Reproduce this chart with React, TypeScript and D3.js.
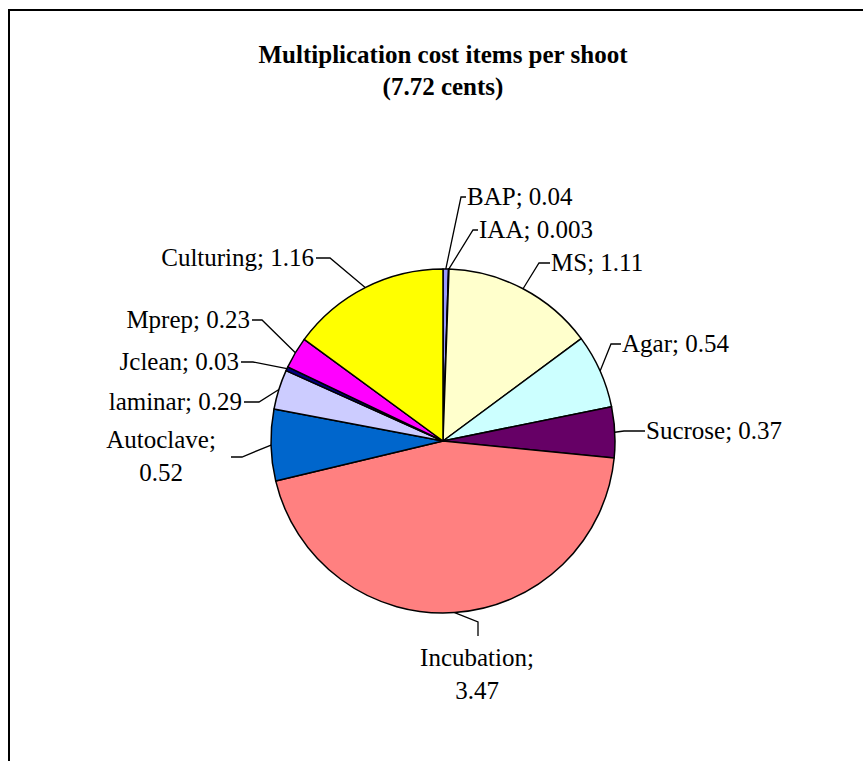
import React from "react";
import * as d3 from "d3";

// Cost items (cents per shoot), clockwise from 12 o'clock
const items = ["BAP", "IAA", "MS", "Agar", "Sucrose", "Incubation", "Autoclave", "laminar", "Jclean", "Mprep", "Culturing"];
const costs = [0.04, 0.003, 1.11, 0.54, 0.37, 3.47, 0.52, 0.29, 0.03, 0.23, 1.16];
const colors = ["#9999FF", "#993366", "#FFFFCC", "#CCFFFF", "#660066", "#FF8080", "#0066CC", "#CCCCFF", "#000080", "#FF00FF", "#FFFF00"];
const titleLines = ["Multiplication cost items per shoot", "(7.72 cents)"];

// Label placement: text anchor point, leader elbow and end, text lines
type LabelLayout = { tx: number; ty: number; anchor: "start" | "end" | "middle"; elbow: [number, number]; end: [number, number]; split?: boolean };
const labelLayout: LabelLayout[] = [
  { tx: 467, ty: 197, anchor: "start", elbow: [461, 197], end: [466, 197] },
  { tx: 479, ty: 230, anchor: "start", elbow: [473, 230], end: [478, 230] },
  { tx: 551, ty: 263, anchor: "start", elbow: [539, 263], end: [550, 263] },
  { tx: 622, ty: 344, anchor: "start", elbow: [611, 344], end: [621, 344] },
  { tx: 646, ty: 431, anchor: "start", elbow: [624, 431], end: [645, 431] },
  { tx: 477, ty: 658, anchor: "middle", elbow: [478, 622], end: [478, 636], split: true },
  { tx: 161, ty: 440, anchor: "middle", elbow: [242, 457], end: [231, 457], split: true },
  { tx: 242, ty: 402, anchor: "end", elbow: [259, 402], end: [244, 402] },
  { tx: 239, ty: 362, anchor: "end", elbow: [253, 362], end: [241, 362] },
  { tx: 250, ty: 320, anchor: "end", elbow: [262, 320], end: [252, 320] },
  { tx: 314, ty: 258, anchor: "end", elbow: [330, 258], end: [316, 258] },
];

const W = 863;
const H = 761;
const cx = 443;
const cy = 441;
const R = 172;
const FONT = "'Liberation Serif', 'Times New Roman', serif";
const FS = 25;
const LINE_GAP = 33;

export default function App() {
  const pie = d3.pie<number>().sort(null).value((d) => d)(costs);
  const arc = d3.arc<d3.PieArcDatum<number>>().innerRadius(0).outerRadius(R);

  return (
    <svg width={W} height={H} style={{ position: "absolute", left: 0, top: 0, background: "#fff" }}>
      <rect x={9} y={10} width={W + 20} height={H + 20} fill="#fff" stroke="#000" strokeWidth={2} />
      {titleLines.map((t, i) => (
        <text key={t} x={443} y={55 + i * 32} dy="0.33em" textAnchor="middle" fontFamily={FONT} fontWeight="bold" fontSize={FS} fill="#000">
          {t}
        </text>
      ))}
      <g transform={`translate(${cx},${cy})`}>
        {pie.map((p, i) => (
          <path key={items[i]} d={arc(p) || ""} fill={colors[i]} stroke="#000" strokeWidth={1.5} strokeLinejoin="round" />
        ))}
      </g>
      {pie.map((p, i) => {
        const L = labelLayout[i];
        const mid = (p.startAngle + p.endAngle) / 2;
        const sx = cx + R * Math.sin(mid);
        const sy = cy - R * Math.cos(mid);
        const line = d3.line()([[sx, sy], L.elbow, L.end]) || "";
        const value = String(costs[i]);
        return (
          <g key={items[i]}>
            <path d={line} fill="none" stroke="#000" strokeWidth={1.3} />
            {L.split ? (
              <text x={L.tx} y={L.ty} dy="0.33em" textAnchor={L.anchor} fontFamily={FONT} fontSize={FS} fill="#000">
                <tspan x={L.tx}>{items[i]};</tspan>
                <tspan x={L.tx} dy={LINE_GAP}>{value}</tspan>
              </text>
            ) : (
              <text x={L.tx} y={L.ty} dy="0.33em" textAnchor={L.anchor} fontFamily={FONT} fontSize={FS} fill="#000">
                {`${items[i]}; ${value}`}
              </text>
            )}
          </g>
        );
      })}
    </svg>
  );
}
